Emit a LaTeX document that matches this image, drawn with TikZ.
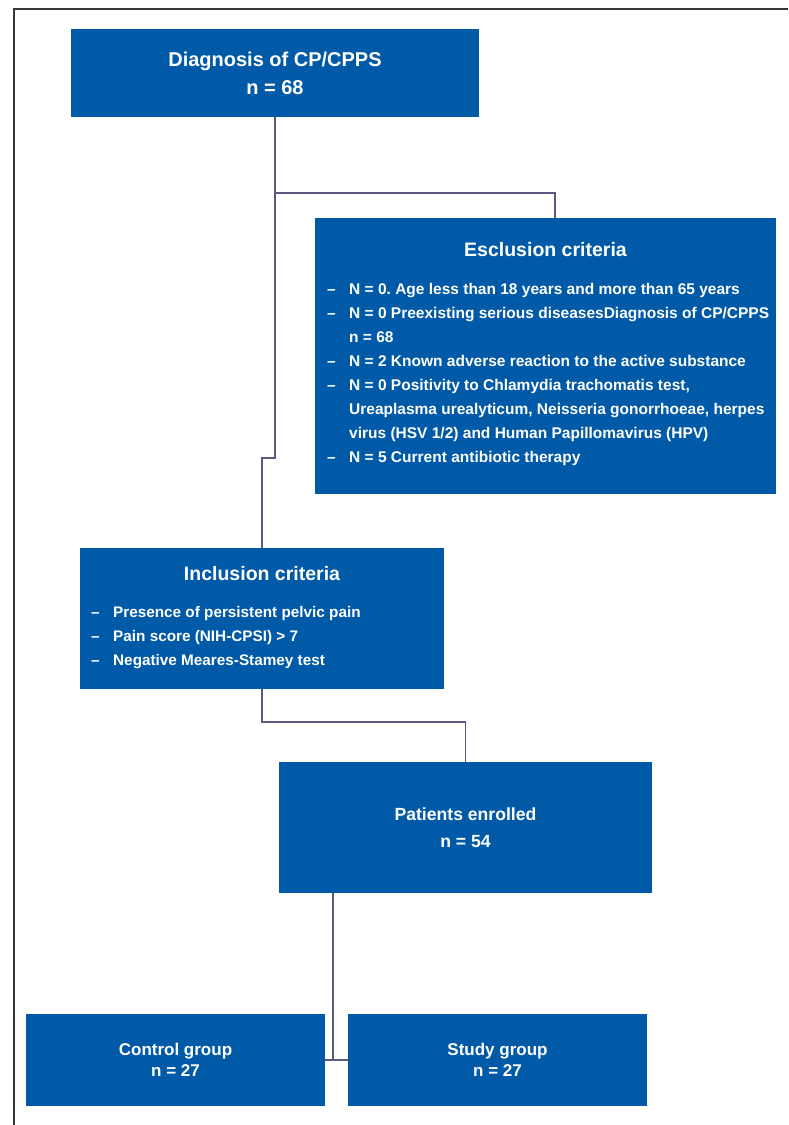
\documentclass[tikz,border=0pt]{standalone}
\usepackage{fontspec}
\setmainfont{Liberation Sans}
\definecolor{boxblue}{RGB}{0,90,168}
\definecolor{linecol}{RGB}{88,88,128}
\definecolor{framecol}{RGB}{55,55,55}
\frenchspacing
\begin{document}
\begin{tikzpicture}[x=1pt,y=-1pt,
  box/.style={fill=boxblue, text=white, inner sep=0pt, align=center},
  conn/.style={draw=linecol, line width=1.8pt},
  title/.style={anchor=base, inner sep=0pt, text=white, font=\bfseries\fontsize{19.5}{24}\selectfont},
  item/.style={anchor=base west, inner sep=0pt, text=white, font=\bfseries\fontsize{15.5}{24}\selectfont},
  iitem/.style={anchor=base west, inner sep=0pt, text=white, font=\bfseries\fontsize{15.3}{24}\selectfont}]
\useasboundingbox (0,0) rectangle (788,1125);
\fill[white] (0,0) rectangle (788,1125);
\draw[framecol, line width=2pt] (14,1125) -- (14,9) -- (788,9);

% boxes
\node[box, minimum width=408pt, minimum height=88pt, font=\bfseries\fontsize{20}{28}\selectfont] (top) at (275,73) {Diagnosis of CP/CPPS\\n = 68};
\node[box, minimum width=461pt, minimum height=276pt] (excl) at (545.5,356) {};
\node[box, minimum width=364pt, minimum height=141pt] (incl) at (262,618.5) {};
\node[box, minimum width=373pt, minimum height=131pt, font=\bfseries\fontsize{17.6}{27}\selectfont] (enr) at (465.5,827.5) {Patients enrolled\\n = 54};
\node[box, minimum width=299pt, minimum height=92pt, font=\bfseries\fontsize{17}{21.5}\selectfont] (ctrl) at (175.5,1060) {Control group\\n = 27};
\node[box, minimum width=299pt, minimum height=92pt, font=\bfseries\fontsize{17}{21.5}\selectfont] (study) at (497.5,1060) {Study group\\n = 27};

% exclusion criteria text
\node[title] (exT) at (545.5,256) {Esclusion criteria};
\node[item] (exd0) at (327,294.5) {–};
\node[item] (ex0) at (349,294.5) {N = 0. Age less than 18 years and more than 65 years};
\node[item] (exd1) at (327,318.5) {–};
\node[item] (ex1) at (349,318.5) {N = 0 Preexisting serious diseasesDiagnosis of CP/CPPS};
\node[item] (ex2) at (349,342.5) {n = 68};
\node[item] (exd3) at (327,366.5) {–};
\node[item] (ex3) at (349,366.5) {N = 2 Known adverse reaction to the active substance};
\node[item] (exd4) at (327,390.5) {–};
\node[item] (ex4) at (349,390.5) {N = 0 Positivity to Chlamydia trachomatis test,};
\node[item] (ex5) at (349,414.5) {Ureaplasma urealyticum, Neisseria gonorrhoeae, herpes};
\node[item] (ex6) at (349,438.5) {virus (HSV 1/2) and Human Papillomavirus (HPV)};
\node[item] (exd7) at (327,462.5) {–};
\node[item] (ex7) at (349,462.5) {N = 5 Current antibiotic therapy};

% inclusion criteria text
\node[title] (inT) at (262,580) {Inclusion criteria};
\node[iitem] (ind0) at (91,617.5) {–};
\node[iitem] (in0) at (113,617.5) {Presence of persistent pelvic pain};
\node[iitem] (ind1) at (91,641.5) {–};
\node[iitem] (in1) at (113,641.5) {Pain score (NIH-CPSI) > 7};
\node[iitem] (ind2) at (91,665) {–};
\node[iitem] (in2) at (113,665) {Negative Meares-Stamey test};

% connectors
\draw[conn] (top.south) -- ++(0,76) -| ([xshift=9.5pt]excl.north);
\draw[conn] (top.south) |- ([yshift=90pt]incl.north) -- (incl.north);
\draw[conn] (incl.south) -- ++(0,33) -| (enr.north);
\draw[conn] ([xshift=-132.5pt]enr.south) |- (ctrl.east);
\draw[conn] (ctrl.east) -- (study.west);
\end{tikzpicture}
\end{document}
